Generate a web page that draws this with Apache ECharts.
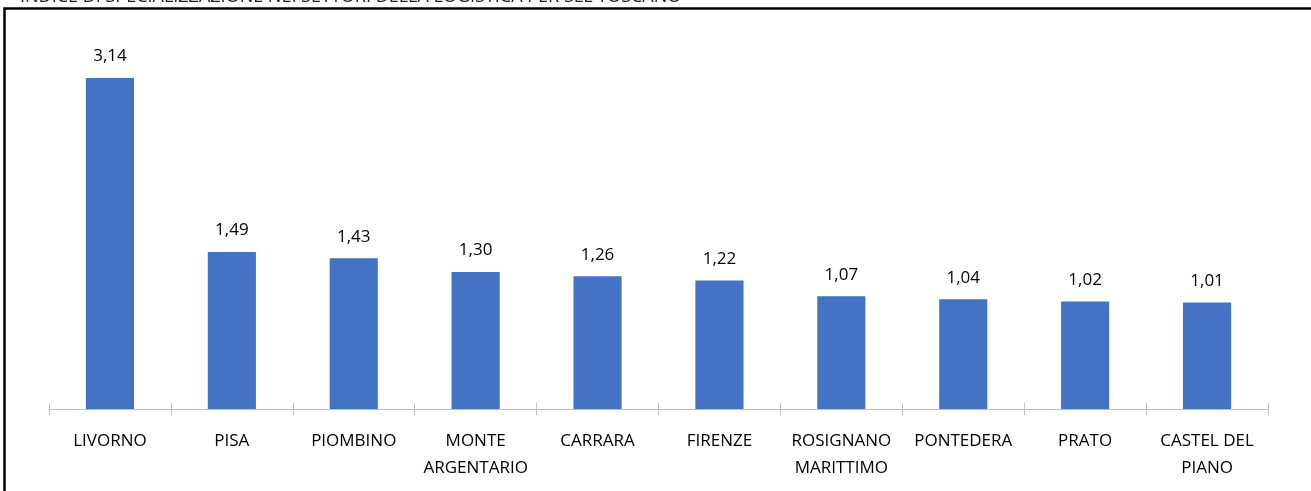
<!DOCTYPE html>
<html>
<head>
<meta charset="utf-8">
<script src="https://cdn.jsdelivr.net/npm/echarts@6/dist/echarts.min.js"></script>
<style>
  html, body { margin: 0; padding: 0; background: #fff; }
  #chart { width: 1311px; height: 491px; }
</style>
</head>
<body>
<div id="chart"></div>
<script>
// Indice di specializzazione nei settori della logistica per SLL toscano
const categories = ['LIVORNO', 'PISA', 'PIOMBINO', 'MONTE\nARGENTARIO', 'CARRARA', 'FIRENZE',
  'ROSIGNANO\nMARITTIMO', 'PONTEDERA', 'PRATO', 'CASTEL DEL\nPIANO'];
const values = [3.14, 1.49, 1.43, 1.30, 1.26, 1.22, 1.07, 1.04, 1.02, 1.01];
const titleText = 'INDICE DI SPECIALIZZAZIONE NEI SETTORI DELLA LOGISTICA PER SLL TOSCANO';

const FONT = 'Open Sans';
const chart = echarts.init(document.getElementById('chart'));

const tickStyle = { color: '#bfbfbf', width: 1 };

chart.setOption({
  animation: false,
  textStyle: { fontFamily: FONT },
  graphic: [
    {
      type: 'text', left: 20, top: -12,
      style: { text: titleText, font: '18px "' + FONT + '"', fill: '#222' }
    },
    {
      type: 'polyline', silent: true,
      shape: { points: [[4.5, 491], [4.5, 8.5], [1311, 8.5]] },
      style: { stroke: '#000', lineWidth: 2.5, fill: null }
    }
  ],
  grid: { left: 49, right: 43, top: 40, bottom: 82 },
  xAxis: [
    {
      type: 'category',
      data: categories,
      axisLine: { lineStyle: tickStyle },
      axisTick: { show: true, length: 6, lineStyle: tickStyle },
      axisLabel: { color: '#000', fontSize: 17, fontFamily: FONT, margin: 19, lineHeight: 27, interval: 0 }
    },
    {
      type: 'category',
      position: 'bottom',
      data: categories,
      axisLine: { show: false },
      axisTick: { show: true, inside: true, length: 6, lineStyle: tickStyle },
      axisLabel: { show: false }
    }
  ],
  yAxis: {
    type: 'value', min: 0, max: 3.5,
    show: false,
    splitLine: { show: false }
  },
  series: [{
    type: 'bar',
    data: values,
    barWidth: '39.5%',
    itemStyle: { color: '#4472c4' },
    label: {
      show: true, position: 'top', distance: 13,
      color: '#000', fontSize: 17, fontFamily: FONT,
      formatter: p => p.value.toFixed(2).replace('.', ',')
    }
  }]
});
</script>
</body>
</html>
